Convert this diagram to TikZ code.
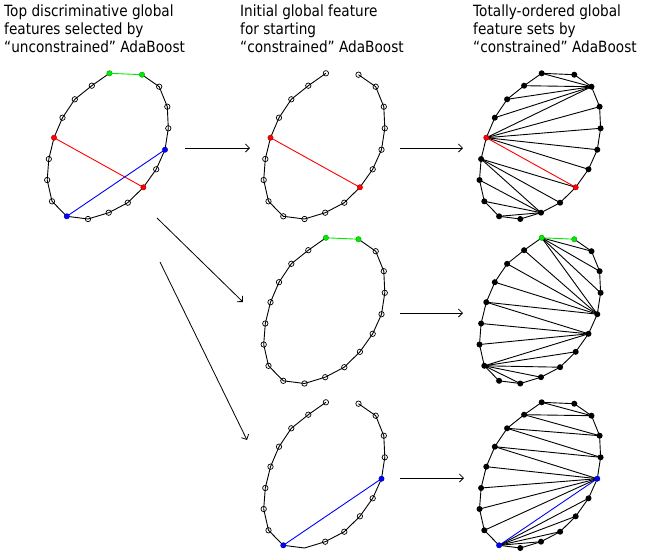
\documentclass[tikz,border=0pt]{standalone}
\usepackage{fontspec}
\setmainfont{DejaVu Sans}[FakeStretch=0.88]
\usetikzlibrary{arrows.meta}
\definecolor{mgreen}{RGB}{0,235,0}
\definecolor{mred}{RGB}{255,0,0}
\definecolor{mblue}{RGB}{0,0,255}
\newcommand\ptlist{109.4/73.3, 142/74.7, 159.2/86.7, 167.3/106.7, 168.3/128.3, 165/149.7, 156.2/169.3, 143.4/187.3, 127.8/202.7, 108.7/212.7, 88/219, 66.8/216.3, 52/201.3, 47.2/180, 48.8/159, 54/137.7, 62.5/117.7, 74.8/99.3, 91.8/85.7}
\newcommand\mkpanel[3]{\foreach \px/\py [count=\k from 0] in \ptlist {\coordinate (#1\k) at ({\px+#2},{-\py-#3});}}
\begin{document}
\begin{tikzpicture}[x=1pt,y=1pt,
  poly/.style={line width=0.9pt, line join=round},
  chord/.style={line width=0.9pt},
  redline/.style={line width=0.9pt, draw=mred},
  blueline/.style={line width=0.9pt, draw=mblue},
  greenline/.style={line width=0.9pt, draw=mgreen},
  hollow/.style={line width=0.7pt},
  conn/.style={line width=0.8pt, -{Straight Barb[length=4pt,width=8pt]}},
  title/.style={anchor=north west, inner sep=0pt, align=left, font=\fontsize{15.5}{18}\selectfont}]
\useasboundingbox (0,0) rectangle (657,-552);
\def\mr{2.7}
\def\fr{3.0}
% titles
\node[title] (t1) at (4,-5) {Top discriminative global\\features selected by\\``unconstrained'' AdaBoost};
\node[title] (t2) at (240,-5) {Initial global feature\\for starting\\``constrained'' AdaBoost};
\node[title] (t3) at (473,-5) {Totally-ordered global\\feature sets by\\``constrained'' AdaBoost};
% panels
\mkpanel{A}{0}{0}
\mkpanel{B}{216.5}{0}
\mkpanel{C}{432.3}{0}
\mkpanel{D}{216.5}{164.5}
\mkpanel{E}{432.3}{164.5}
\mkpanel{F}{216.5}{329}
\mkpanel{G}{432.3}{329}
% ---- Panel A
\draw[poly] (A1) \foreach \i in {2,...,18}{-- (A\i)} -- (A0);
\draw[greenline] (A0) -- (A1);
\draw[redline] (A15) -- (A7);
\draw[blueline] (A11) -- (A5);
\foreach \i in {2,3,4,6,8,9,10,12,13,14,16,17,18} \draw[hollow] (A\i) circle (\mr);
\foreach \i in {0,1} \filldraw[fill=mgreen, draw=mgreen!70!black, line width=0.4pt] (A\i) circle (\mr);
\foreach \i in {7,15} \filldraw[fill=mred, draw=mred!70!black, line width=0.4pt] (A\i) circle (\mr);
\foreach \i in {5,11} \filldraw[fill=mblue, draw=mblue!70!black, line width=0.4pt] (A\i) circle (\mr);
% ---- Panel B
\draw[poly] (B1) \foreach \i in {2,...,18}{-- (B\i)} -- (B0);
\draw[redline] (B15) -- (B7);
\foreach \i in {0,1,2,3,4,5,6,8,9,10,11,12,13,14,16,17,18} \draw[hollow] (B\i) circle (\mr);
\foreach \i in {7,15} \filldraw[fill=mred, draw=mred!70!black, line width=0.4pt] (B\i) circle (\mr);
% ---- Panel C
\foreach \a/\b in {0/2,18/2,17/2,16/2,15/2,15/3,15/4,15/5,15/6,14/7,14/8,14/9,13/9,12/9,11/9} \draw[chord] (C\a) -- (C\b);
\draw[poly] (C0) \foreach \i in {1,...,18}{-- (C\i)} -- cycle;
\draw[redline] (C15) -- (C7);
\foreach \i in {0,1,2,3,4,5,6,8,9,10,11,12,13,14,16,17,18} \fill (C\i) circle (\fr);
\foreach \i in {7,15} \filldraw[fill=mred, draw=mred!70!black, line width=0.4pt] (C\i) circle (\mr);
% ---- Panel D
\draw[poly] (D1) \foreach \i in {2,...,18}{-- (D\i)} -- (D0);
\draw[greenline] (D0) -- (D1);
\foreach \i in {2,...,18} \draw[hollow] (D\i) circle (\mr);
\foreach \i in {0,1} \filldraw[fill=mgreen, draw=mgreen!70!black, line width=0.4pt] (D\i) circle (\mr);
% ---- Panel E
\foreach \a/\b in {0/2,0/3,0/4,0/5,18/5,17/5,16/5,15/5,15/6,14/6,13/6,12/6,12/7,12/8,12/9,12/10} \draw[chord] (E\a) -- (E\b);
\draw[poly] (E1) \foreach \i in {2,...,18}{-- (E\i)} -- (E0);
\draw[greenline] (E0) -- (E1);
\foreach \i in {2,...,18} \fill (E\i) circle (\fr);
\foreach \i in {0,1} \filldraw[fill=mgreen, draw=mgreen!70!black, line width=0.4pt] (E\i) circle (\mr);
% ---- Panel F
\draw[poly] (F1) \foreach \i in {2,...,18}{-- (F\i)} -- (F0);
\draw[blueline] (F11) -- (F5);
\foreach \i in {0,1,2,3,4,6,7,8,9,12,13,14,15,16,17,18} \draw[hollow] (F\i) circle (\mr);
\foreach \i in {5,11} \filldraw[fill=mblue, draw=mblue!70!black, line width=0.4pt] (F\i) circle (\mr);
% ---- Panel G
\foreach \a/\b in {0/2,18/2,18/3,17/3,17/4,16/4,16/5,15/5,14/5,13/5,12/5,11/6,11/7,11/8,11/9} \draw[chord] (G\a) -- (G\b);
\draw[poly] (G0) \foreach \i in {1,...,18}{-- (G\i)} -- cycle;
\draw[blueline] (G11) -- (G5);
\foreach \i in {0,1,2,3,4,6,7,8,9,10,12,13,14,15,16,17,18} \fill (G\i) circle (\fr);
\foreach \i in {5,11} \filldraw[fill=mblue, draw=mblue!70!black, line width=0.4pt] (G\i) circle (\mr);
% ---- arrows
\coordinate (a1s) at (185,-148); \coordinate (a1e) at (250,-148);
\coordinate (a2s) at (400,-148); \coordinate (a2e) at (463,-148);
\coordinate (a3s) at (400,-313); \coordinate (a3e) at (463,-313);
\coordinate (a4s) at (400,-478); \coordinate (a4e) at (464,-478);
\coordinate (a5s) at (157,-218); \coordinate (a5e) at (243,-302);
\coordinate (a6s) at (160,-262); \coordinate (a6e) at (247,-440);
\foreach \s/\e in {a1s/a1e,a2s/a2e,a3s/a3e,a4s/a4e,a5s/a5e,a6s/a6e} \draw[conn] (\s) -- (\e);
\end{tikzpicture}
\end{document}
